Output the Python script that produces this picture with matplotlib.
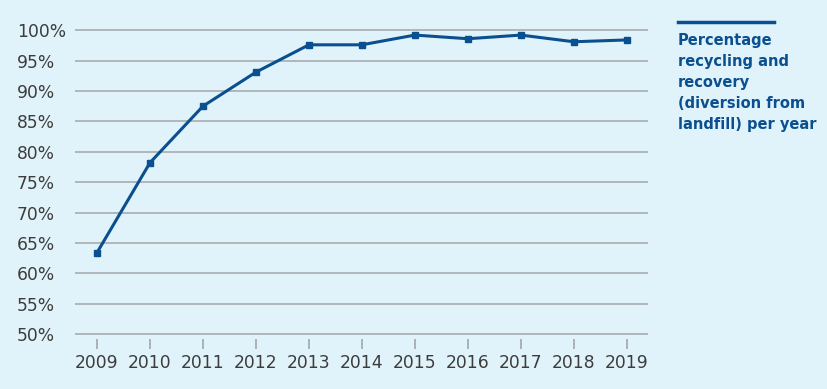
import matplotlib.pyplot as plt

# data
years = [2009, 2010, 2011, 2012, 2013, 2014, 2015, 2016, 2017, 2018, 2019]
recovery = [63.4, 78.2, 87.5, 93.1, 97.6, 97.6, 99.2, 98.6, 99.2, 98.1, 98.4]
yticks = [50, 55, 60, 65, 70, 75, 80, 85, 90, 95, 100]
legend_text = "Percentage\nrecycling and\nrecovery\n(diversion from\nlandfill) per year"

bg = '#e1f3fa'
blue = '#0a4f8f'
grid_col = '#a3a6a8'
text_col = '#3c3c3c'

fig = plt.figure(figsize=(8.28, 3.89), dpi=100, facecolor=bg)
ax = fig.add_axes([75 / 828, 1 - 339 / 389, (648 - 75) / 828, (339 - 29) / 389])
ax.set_facecolor(bg)

# horizontal grid lines drawn by hand at the tick values
for v in yticks:
    ax.axhline(v, color=grid_col, lw=1.1, zorder=1)

ax.plot(years, recovery, color=blue, lw=2.2, marker='s', ms=4.5, zorder=3)

ax.set_xlim(2008.585, 2019.40)
ax.set_ylim(49.2, 100.2)
ax.set_yticks(yticks)
ax.set_yticklabels([f'{v}%' for v in yticks])
ax.set_xticks(years)
ax.set_xticklabels([str(y) for y in years])

for s in ax.spines.values():
    s.set_visible(False)

ax.tick_params(axis='y', length=0, pad=42, labelsize=12.3, labelcolor=text_col)
for lab in ax.get_yticklabels():
    lab.set_horizontalalignment('left')
ax.tick_params(axis='x', length=7, width=1.2, color=grid_col, pad=4,
               labelsize=12.3, labelcolor=text_col)

# legend at the right
fig.add_artist(plt.Line2D([678 / 828, 774 / 828], [1 - 22 / 389, 1 - 22 / 389],
                          color=blue, lw=2.5))
fig.text(678 / 828, 1 - 33 / 389, legend_text, ha='left', va='top',
         fontsize=10.5, fontweight='bold', color=blue, linespacing=1.5)

plt.savefig('out.png', dpi=100, facecolor=bg)
